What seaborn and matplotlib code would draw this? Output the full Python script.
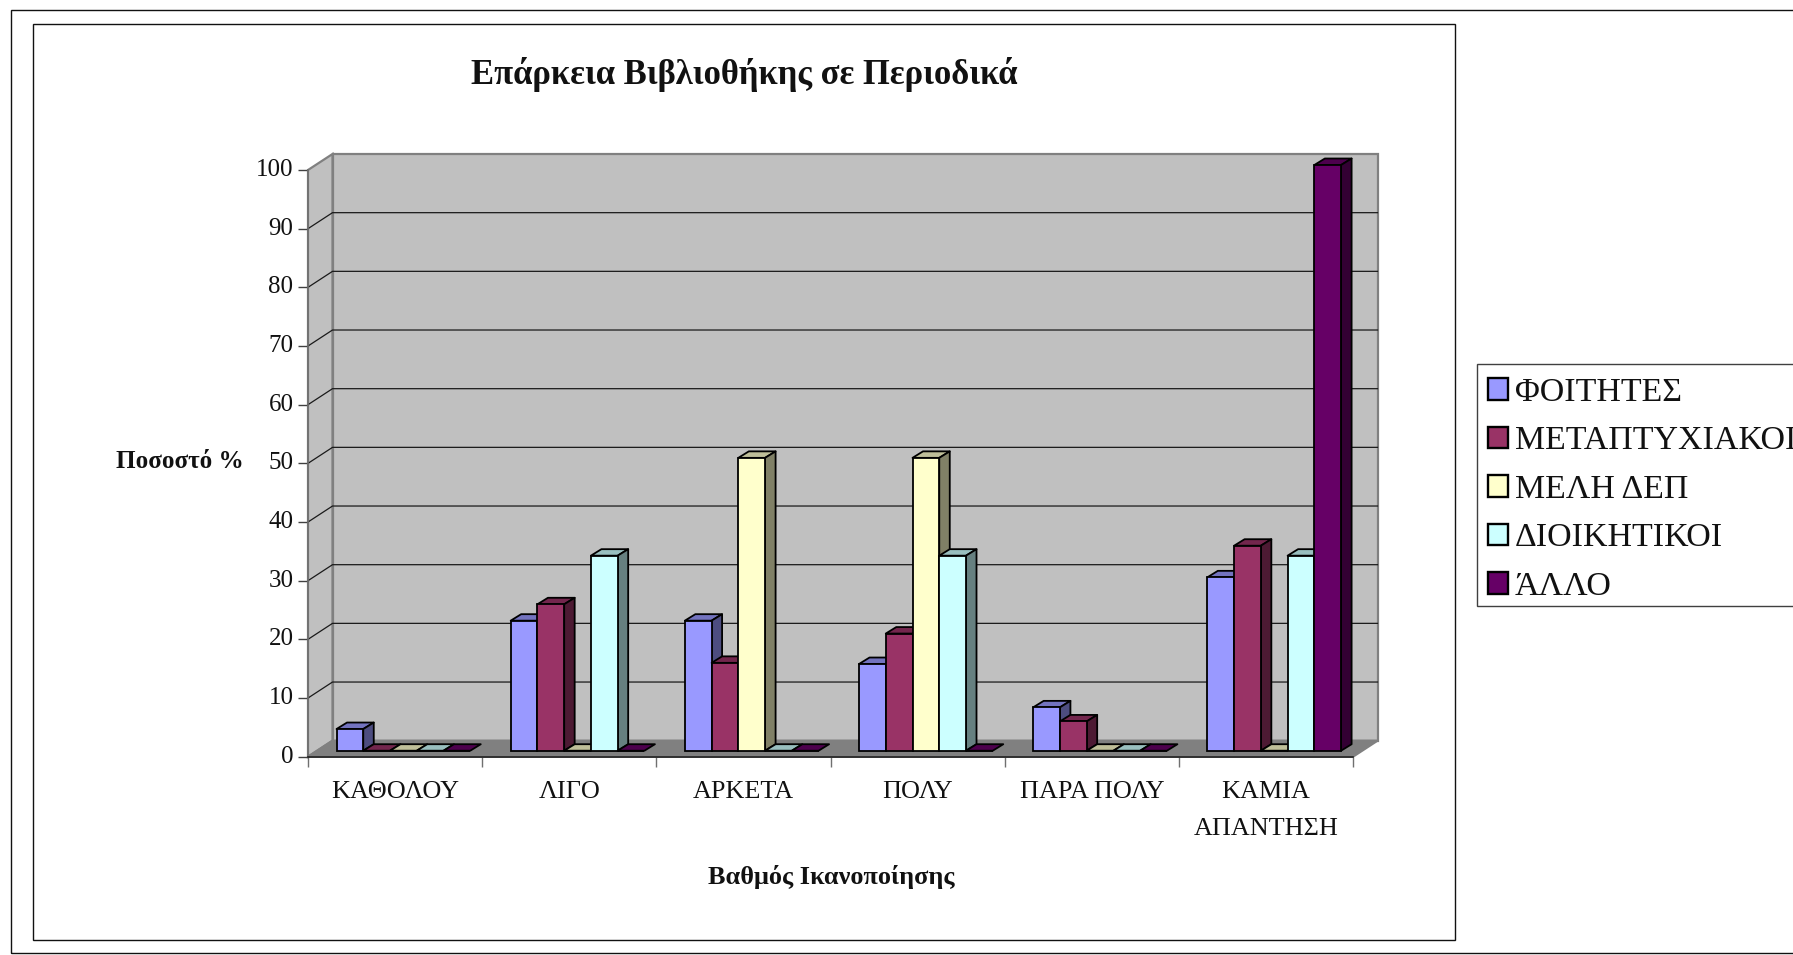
import matplotlib
matplotlib.use("Agg")
import matplotlib.pyplot as plt
from matplotlib.patches import Rectangle, Patch, Polygon
from matplotlib.transforms import ScaledTranslation
import pandas as pd
import seaborn as sns

categories = ["ΚΑΘΟΛΟΥ", "ΛΙΓΟ", "ΑΡΚΕΤΑ", "ΠΟΛΥ", "ΠΑΡΑ ΠΟΛΥ", "ΚΑΜΙΑ\nΑΠΑΝΤΗΣΗ"]
series_names = ["ΦΟΙΤΗΤΕΣ", "ΜΕΤΑΠΤΥΧΙΑΚΟΙ", "ΜΕΛΗ ΔΕΠ", "ΔΙΟΙΚΗΤΙΚΟΙ", "ΆΛΛΟ"]
foitites = [3.7, 22.2, 22.2, 14.8, 7.4, 29.6]
metaptyxiakoi = [0, 25, 15, 20, 5, 35]
meli_dep = [0, 0, 50, 50, 0, 0]
dioikitikoi = [0, 33.3, 0, 33.3, 0, 33.3]
allo = [0, 0, 0, 0, 0, 100]
colors = ["#9999FF", "#993366", "#FFFFCC", "#CCFFFF", "#660066"]
y_ticks = list(range(0, 101, 10))
title = "Επάρκεια Βιβλιοθήκης σε Περιοδικά"
y_label = "Ποσοστό %"
x_label = "Βαθμός Ικανοποίησης"

W, H = 1793, 955
plt.rcParams["font.family"] = ["Liberation Serif", "DejaVu Serif"]
fig = plt.figure(figsize=(W / 100, H / 100), dpi=100, facecolor="white")


def fx(px):
    return px / W


def fy(py):
    return 1 - py / H


def box(x0, y0, x1, y1):
    return [fx(x0), fy(y1), fx(x1) - fx(x0), fy(y0) - fy(y1)]


# frames
fig.add_artist(Rectangle((fx(10.5), fy(952.5)), fx(1800), fy(10.5) - fy(952.5), fc="none", ec="#111111", lw=1.0))
fig.add_artist(Rectangle((fx(33), fy(940)), fx(1454.5 - 33), fy(24) - fy(940), fc="none", ec="#111111", lw=1.0))

# plot area (front plane)
L, R, T, B = 308, 1353, 170, 756.7
ax = fig.add_axes(box(L, T, R, B))
ax.set_xlim(-0.5, 5.5)
ax.set_ylim(0, 100)
ax.patch.set_alpha(0)
xpx = (R - L) / 6
ypx = (B - T) / 100
DX, DY = 24.5 / xpx, 16 / ypx

wall, floor, edge = "#C0C0C0", "#808080", "#808080"
pk = dict(clip_on=False, zorder=0.5, lw=1.6)
ax.add_patch(Polygon([(-0.5 + DX, DY), (5.5 + DX, DY), (5.5 + DX, 100 + DY), (-0.5 + DX, 100 + DY)], fc=wall, ec=edge, **pk))
ax.add_patch(Polygon([(-0.5, 0), (-0.5 + DX, DY), (-0.5 + DX, 100 + DY), (-0.5, 100)], fc=wall, ec=edge, **pk))
ax.add_patch(Polygon([(-0.5, 0), (5.5, 0), (5.5 + DX, DY), (-0.5 + DX, DY)], fc=floor, ec=edge, **pk))
for v in y_ticks[1:-1]:
    ax.plot([-0.5, -0.5 + DX, 5.5 + DX], [v, v + DY, v + DY], color="#1a1a1a", lw=0.9, clip_on=False, zorder=0.8)

for s in ["top", "right"]:
    ax.spines[s].set_visible(False)
ax.spines["left"].set_color("#707070")
ax.spines["left"].set_linewidth(1.2)
ax.spines["bottom"].set_color("#222222")
ax.spines["bottom"].set_linewidth(1.2)
ax.set_yticks(y_ticks)
ax.tick_params(axis="y", length=7.5, width=1.0, color="#404040", labelsize=18, pad=3, labelcolor="#111111")
lift = ScaledTranslation(0, 2.5 / 100, fig.dpi_scale_trans)
for lab in ax.get_yticklabels():
    lab.set_transform(lab.get_transform() + lift)
ax.set_xticks([i - 0.5 for i in range(7)])
ax.set_xticklabels([])
ax.tick_params(axis="x", which="major", length=7.5, width=1.0, color="#707070")
ax.set_xticks(range(6), minor=True)
ax.set_xticklabels(categories, minor=True, fontsize=18.8, color="#111111", linespacing=1.87, va="top")
ax.tick_params(axis="x", which="minor", length=0, pad=17.5)

# bars: own axes, shifted into the depth of the floor
SX, SY = 8.3, 6
bax = fig.add_axes(box(L + SX, T - SY + 1, R + SX, B - SY))
bax.patch.set_alpha(0)
values = [foitites, metaptyxiakoi, meli_dep, dioikitikoi, allo]
df = pd.DataFrame({
    "cat": [c for _ in series_names for c in categories],
    "series": [s for s in series_names for _ in categories],
    "val": [v for vs in values for v in vs],
})
sns.barplot(data=df, x="cat", y="val", hue="series", order=categories, hue_order=series_names,
            palette=colors, width=0.768, gap=0, saturation=1, edgecolor="black", linewidth=1.3,
            errorbar=None, legend=False, ax=bax)
bax.set_xlim(-0.5, 5.5)
bax.set_ylim(0, 100)
bax.axis("off")

ddx, ddy = 10.5 / xpx, 6.5 / ypx
bars = sorted([p for p in bax.patches], key=lambda p: p.get_x())


def shade(rgb, f):
    return tuple(ch * f for ch in rgb[:3])


for i, p in enumerate(bars):
    x0, w, h = p.get_x(), p.get_width(), p.get_height()
    c = p.get_facecolor()
    z = 2 + i * 0.01
    p.set_zorder(z + 0.005)
    p.set_clip_on(False)
    bax.add_patch(Polygon([(x0, h), (x0 + w, h), (x0 + w + ddx, h + ddy), (x0 + ddx, h + ddy)],
                          fc=shade(c, 0.75), ec="black", lw=1.3, clip_on=False, zorder=z, joinstyle="round"))
    if h > 0:
        bax.add_patch(Polygon([(x0 + w, 0), (x0 + w + ddx, ddy), (x0 + w + ddx, h + ddy), (x0 + w, h)],
                              fc=shade(c, 0.5), ec="black", lw=1.3, clip_on=False, zorder=z, joinstyle="round"))

# text
fig.text(fx(744.5), fy(75), title, ha="center", va="center", fontsize=24.9, fontweight="bold", color="#111111")
fig.text(fx(180), fy(461), y_label, ha="center", va="center", fontsize=18.1, fontweight="bold", color="#111111")
fig.text(fx(831), fy(877), x_label, ha="center", va="center", fontsize=18.9, fontweight="bold", color="#111111")

# legend
fig.add_artist(Rectangle((fx(1477), fy(606)), fx(400), fy(364) - fy(606), fc="white", ec="#404040", lw=1.0))
handles = [Patch(facecolor=c, edgecolor="black", linewidth=1.7) for c in colors]
leg = fig.legend(handles, series_names, loc="upper left", bbox_to_anchor=(fx(1477), fy(366.5)),
                 bbox_transform=fig.transFigure, borderaxespad=0, fontsize=24.4, frameon=False,
                 handlelength=0.6, handleheight=0.6, handletextpad=0.2,
                 labelspacing=0.53, borderpad=0.32, labelcolor="#111111")

fig.savefig("out.png", dpi=100, facecolor="white")
